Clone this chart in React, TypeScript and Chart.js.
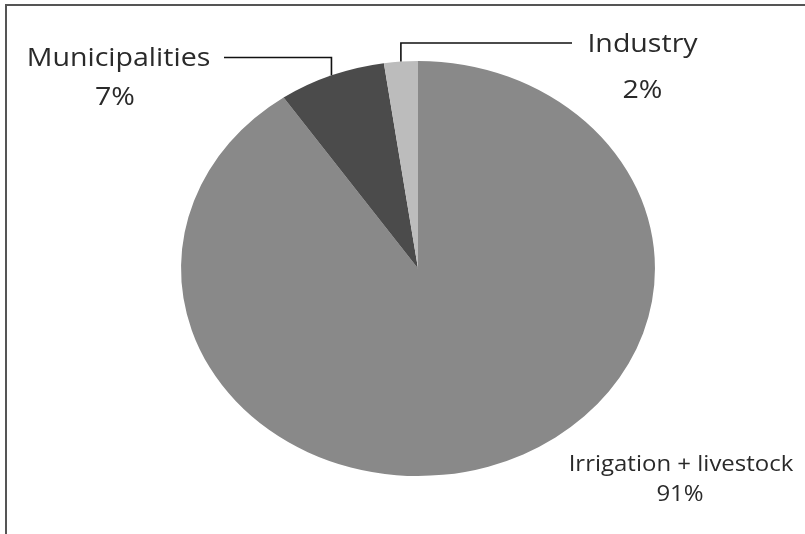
import React, { useEffect, useRef } from "react";
import { Chart, registerables } from "chart.js";

Chart.register(...registerables);

const categories = ["Irrigation + livestock", "Municipalities", "Industry"];
const shares = [90.4, 7.3, 2.3];
const shareLabels = ["91%", "7%", "2%"];
const sliceColors = ["#898989", "#4b4b4b", "#bcbcbc"];

const STRETCH_X = 1.142;

type LabelSpec = {
  cx: number;
  nameBase: number;
  pctCx: number;
  pctBase: number;
  size: number;
  leader?: { y: number; fromX: number };
};

const labelLayout: LabelSpec[] = [
  { cx: 681, nameBase: 471, pctCx: 680, pctBase: 501, size: 21 },
  { cx: 118.5, nameBase: 66, pctCx: 115, pctBase: 105, size: 25, leader: { y: 57.5, fromX: 224 } },
  { cx: 642.5, nameBase: 52, pctCx: 642.5, pctBase: 98, size: 25, leader: { y: 43, fromX: 572 } },
];

const FONT = "'Open Sans', 'Noto Sans', sans-serif";

const stretchPlugin = {
  id: "stretchPie",
  beforeDatasetsDraw(chart: any) {
    const arc = chart.getDatasetMeta(0).data[0];
    const ctx = chart.ctx;
    ctx.save();
    ctx.translate(arc.x, arc.y);
    ctx.scale(STRETCH_X, 1);
    ctx.translate(-arc.x, -arc.y);
  },
  afterDatasetsDraw(chart: any) {
    chart.ctx.restore();
  },
};

const framePlugin = {
  id: "frame",
  afterDraw(chart: any) {
    const ctx = chart.ctx;
    ctx.save();
    ctx.strokeStyle = "#555";
    ctx.lineWidth = 2;
    ctx.beginPath();
    ctx.moveTo(6, chart.height);
    ctx.lineTo(6, 5);
    ctx.lineTo(chart.width, 5);
    ctx.stroke();
    ctx.restore();
  },
};

const labelPlugin = {
  id: "pieLabels",
  afterDatasetsDraw(chart: any) {
    const ctx = chart.ctx;
    const meta = chart.getDatasetMeta(0);
    meta.data.forEach((arc: any, i: number) => {
      const spec = labelLayout[i];
      if (!spec) return;
      ctx.save();
      ctx.fillStyle = "#2a2a2a";
      ctx.textAlign = "center";
      ctx.textBaseline = "alphabetic";
      ctx.font = `${spec.size}px ${FONT}`;
      const drawStretched = (t: string, x: number, y: number) => {
        ctx.save();
        ctx.translate(x, y);
        ctx.scale(STRETCH_X, 1);
        ctx.fillText(t, 0, 0);
        ctx.restore();
      };
      drawStretched(categories[i], spec.cx, spec.nameBase);
      drawStretched(shareLabels[i], spec.pctCx, spec.pctBase);
      if (spec.leader) {
        const mid = (arc.startAngle + arc.endAngle) / 2;
        const ex = arc.x + Math.cos(mid) * arc.outerRadius * STRETCH_X;
        const ey = arc.y + Math.sin(mid) * arc.outerRadius;
        ctx.strokeStyle = "#111";
        ctx.lineWidth = 1.6;
        ctx.beginPath();
        ctx.moveTo(spec.leader.fromX, spec.leader.y);
        ctx.lineTo(ex, spec.leader.y);
        ctx.lineTo(ex, ey);
        ctx.stroke();
      }
      ctx.restore();
    });
  },
};

export default function App() {
  const ref = useRef<HTMLCanvasElement | null>(null);
  useEffect(() => {
    if (!ref.current) return;
    const chart = new Chart(ref.current, {
      type: "pie",
      data: {
        labels: categories,
        datasets: [
          {
            data: shares,
            backgroundColor: sliceColors,
            borderWidth: 0,
            hoverOffset: 0,
          },
        ],
      },
      options: {
        animation: false,
        responsive: true,
        maintainAspectRatio: false,
        events: [],
        rotation: 0,
        layout: { padding: { top: 61, bottom: 58, left: 210.5, right: 179.5 } },
        plugins: {
          legend: { display: false },
          tooltip: { enabled: false },
        },
      },
      plugins: [stretchPlugin, labelPlugin, framePlugin],
    });
    return () => chart.destroy();
  }, []);
  return (
    <div
      style={{
        position: "absolute",
        left: 0,
        top: 0,
        width: 805,
        height: 534,
        background: "#fff",
      }}
    >
      <canvas ref={ref} />
    </div>
  );
}
